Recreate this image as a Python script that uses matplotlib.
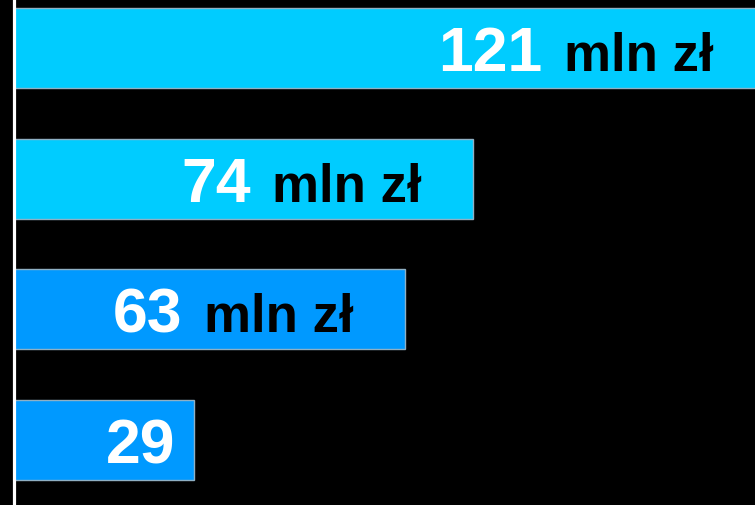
import matplotlib.pyplot as plt

# dane
values = [121, 74, 63, 29]
units = ['mln zł', 'mln zł', 'mln zł', '']
colors = ['#00CCFF', '#00CCFF', '#0099FF', '#0099FF']

plt.rcParams['font.family'] = ['Liberation Sans', 'DejaVu Sans']

fig = plt.figure(figsize=(7.55, 5.05), dpi=100, facecolor='black')
ax = fig.add_axes([14 / 755, 0, 1 - 14 / 755, 1])
ax.set_facecolor('black')

pos = list(range(len(values)))
ax.barh(pos, values, height=0.61, color=colors, edgecolor='#8fb0c4', linewidth=1)

for i, v in enumerate(values):
    if units[i]:
        # jednostka
        ax.annotate(units[i], (v, i), xytext=(-51, -23), textcoords='offset pixels',
                    ha='right', va='baseline', fontsize=38, fontweight='bold', color='black',
                    annotation_clip=False)
        num_off = -222
    else:
        num_off = -18
    # wartość
    ax.annotate(str(v), (v, i), xytext=(num_off, -23), textcoords='offset pixels',
                ha='right', va='baseline', fontsize=45, fontweight='bold', color='white',
                annotation_clip=False)

ax.set_xlim(0, 741 / 6.2)
ax.set_ylim(3.497, -0.367)
ax.set_xticks([])
ax.set_yticks([])
for s in ['top', 'right', 'bottom']:
    ax.spines[s].set_visible(False)
ax.spines['left'].set_color('white')
ax.spines['left'].set_linewidth(2.3)

plt.savefig('out.png', dpi=100, facecolor='black')
